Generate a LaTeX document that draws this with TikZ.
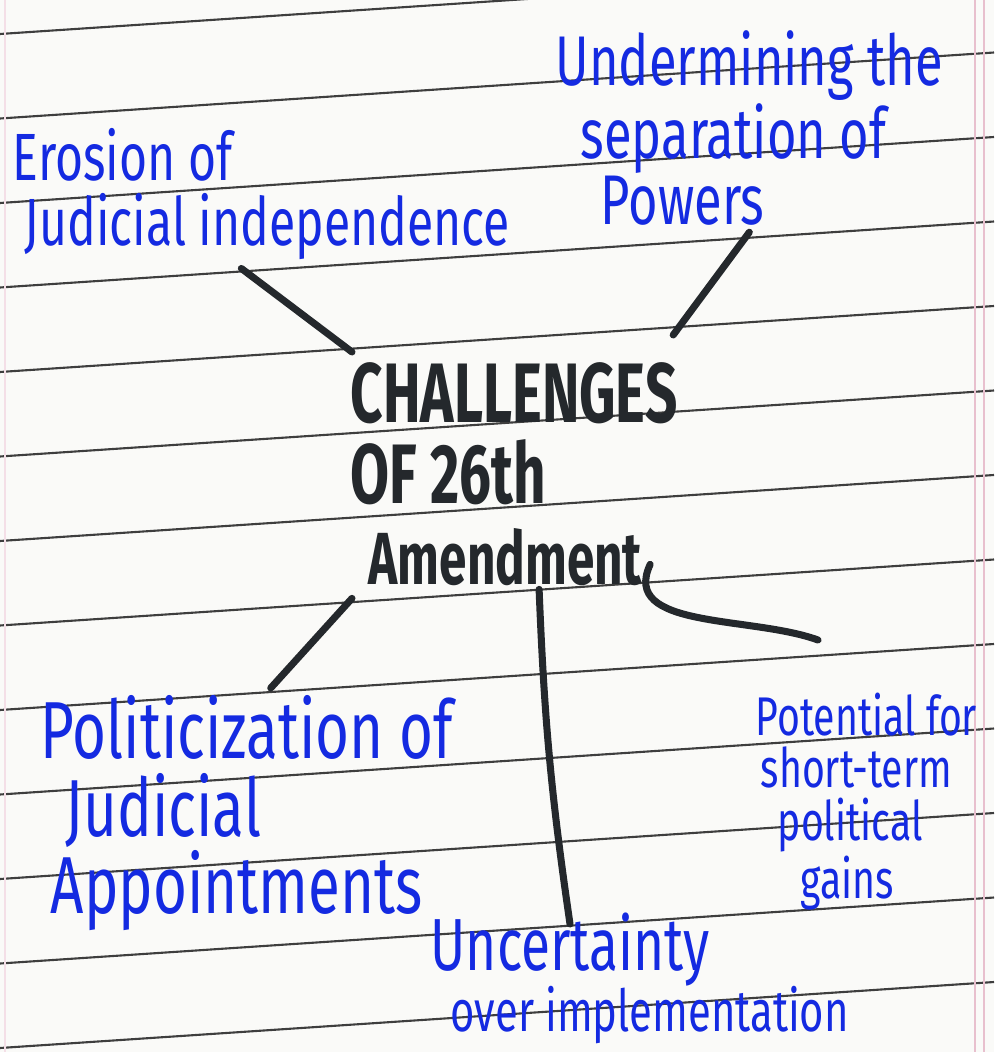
\documentclass[tikz,border=0pt]{standalone}
\usepackage{fontspec}
\newfontfamily\hand[FakeStretch=0.72]{Fira Sans}
\newfontfamily\handcaps[FakeStretch=0.67]{Fira Sans}
\usetikzlibrary{calc}

\definecolor{inkblue}{RGB}{20,42,225}
\definecolor{inkblack}{RGB}{36,40,44}
\definecolor{ruleline}{RGB}{62,62,62}
\definecolor{marginpink}{RGB}{232,192,206}
\definecolor{paper}{RGB}{250,250,248}

\begin{document}
\begin{tikzpicture}[
      x=0.01cm, y=0.01cm,
      idea/.style={text=inkblue,align=left,inner sep=0pt,anchor=north west},
      hub/.style={text=inkblack,align=left,inner sep=0pt,anchor=north west,
        font=\handcaps\bfseries\fontsize{24}{23}\selectfont},
      link/.style={draw=inkblack,line width=2pt,line cap=round}
    ]
    \fill[paper] (0,0) rectangle (994,-1052);
    \clip (0,0) rectangle (994,-1052);
    % ruled page
    \foreach \k in {0,...,12}
      \draw[ruleline,line width=0.6pt] (0,{-34-84.5*\k}) -- (994,{-34-84.5*\k+66});
    \draw[marginpink,line width=0.5pt] (975,0) -- (975,-1052) (984,0) -- (984,-1052);
    \draw[marginpink!50,line width=0.4pt] (5,0) -- (5,-1052);

    \node[hub] (hub) at (350,-362)
      {CHALLENGES\\OF 26th\\\hspace*{0.18cm}{\fontsize{21}{23}\selectfont Amendment}};

    \node[idea,font=\hand\fontsize{19}{18.4}\selectfont] (erosion) at (12,-128)
      {Erosion of\\\hspace*{0.12cm}Judicial independence};
    \node[idea,font=\hand\fontsize{20}{18.7}\selectfont] (undermine) at (555,-30)
      {Undermining the\\\hspace*{0.25cm}separation of\\\hspace*{0.45cm}Powers};
    \node[idea,font=\hand\fontsize{23}{22}\selectfont] (politic) at (40,-695)
      {Politicization of\\\hspace*{0.25cm}Judicial\\\hspace*{0.1cm}Appointments};
    \node[idea,font=\hand\fontsize{15.5}{15}\selectfont] (potential) at (755,-692)
      {Potential for\\\hspace*{0.05cm}short-term\\\hspace*{0.22cm}political\\\hspace*{0.45cm}gains};
    \node[idea,font=\hand\fontsize{16.5}{16}\selectfont] (uncert) at (430,-912)
      {{\fontsize{21}{16}\selectfont Uncertainty}\\[-1pt]\hspace*{0.2cm}over implementation};

    \draw[link] ($(erosion.south)+(-20,-8)$) -- ($(hub.north west)+(2,10)$);
    \draw[link] ($(undermine.south)+(0,-6)$) -- ($(hub.north east)+(-5,27)$);
    \draw[link] ($(hub.south west)+(2,-12)$) -- ($(politic.north)+(24,7)$);
    \draw[link] ($(hub.south)+(25,-3)$) to[bend right=3] ($(uncert.north west)+(140,-12)$);
    \draw[link] ($(hub.south east)+(-28,22)$) to[out=-115,in=160] ($(potential.north west)+(63,52)$);
\end{tikzpicture}
\end{document}
